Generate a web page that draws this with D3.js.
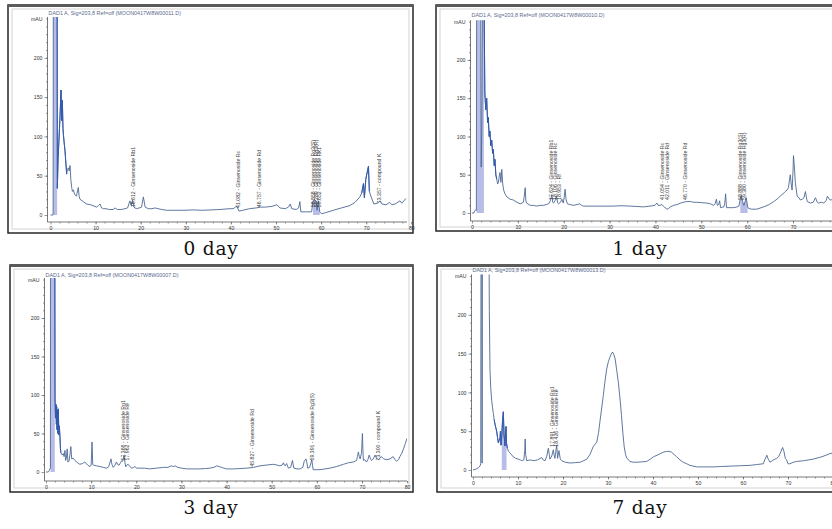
<!DOCTYPE html>
<html><head><meta charset="utf-8">
<script src="https://cdn.jsdelivr.net/npm/d3@7"></script>
<style>body{margin:0;background:#fff;} svg{display:block;}</style>
</head><body>
<svg id="c" width="832" height="529"></svg>
<script>
// ---------------- DATA ----------------
const timeTicks = [0, 10, 20, 30, 40, 50, 60, 70, 80];
const signalTicks = [0, 50, 100, 150, 200];
const signalUnit = "mAU";
const captions = ["0 day", "1 day", "3 day", "7 day"];
const titles = [
  "DAD1 A, Sig=203,8 Ref=off (MOON0417W8W00011.D)",
  "DAD1 A, Sig=203,8 Ref=off (MOON0417W8W00010.D)",
  "DAD1 A, Sig=203,8 Ref=off (MOON0417W8W00007.D)",
  "DAD1 A, Sig=203,8 Ref=off (MOON0417W8W00013.D)"
];

// [retention time (min), signal (mAU)]
const day0Trace = [[0,0],[0.28,0],[0.58,0],[0.63,300],[1.47,300],[1.52,34],[1.67,70],[1.87,95],[2.07,120],[2.34,159],[2.47,120],[2.63,146],[2.77,110],[2.85,103],[3.06,90],[3.21,82],[3.36,70],[3.58,52],[3.76,58],[3.96,60],[4.16,56],[4.33,63],[4.51,45],[4.7,35],[4.86,30],[5.07,32],[5.35,26],[5.75,24],[6.17,35],[6.35,24],[6.55,20],[7.25,17],[8.02,14],[8.94,13],[10.23,10],[10.63,12],[10.98,14],[11.33,9],[11.73,8],[12.32,8],[13.02,7],[13.92,7],[14.31,9],[14.81,7],[15.71,7],[16.5,8],[17.1,9],[17.6,18],[17.9,12],[18.2,19],[18.5,10],[19.0,8],[19.69,9],[20.19,10],[20.59,23],[20.99,10],[21.68,8],[22.48,8],[23.18,9],[23.87,8],[24.67,7],[25.76,6],[27.66,6],[29.65,6],[31.64,6.5],[33.63,6],[35.62,6.5],[37.61,7],[39.6,8],[40.5,8],[41.0,10],[41.3,11],[41.8,5],[42.6,6],[44.1,8],[45.6,9],[46.5,10],[47.6,10],[49.1,11],[50.2,13],[50.85,9],[52.05,8],[52.75,10],[53.15,14],[53.5,8],[54.5,7],[55.0,9],[55.3,17],[55.5,4],[56.5,4],[57.9,4],[58.2,18],[58.6,19],[58.9,18],[59.1,6],[59.4,18],[59.7,4],[60.1,1.5],[61.0,3],[62.7,6],[64.5,9],[66.4,12],[67.5,16],[68.6,23],[69.0,28],[69.4,40],[69.6,22],[69.9,45],[70.1,51],[70.5,62],[70.7,30],[71.1,23],[71.7,14],[72.5,15],[73.1,18],[73.5,14],[74.4,13],[75.2,16],[75.7,13],[76.4,14],[77.5,18],[77.9,15],[78.8,21]];

const day1Trace = [[0,0],[0.4,0],[0.6,3],[0.8,4],[0.95,3],[1.02,300],[1.9,300],[2.0,60],[2.15,120],[2.3,300],[2.6,300],[2.8,157],[3.0,135],[3.2,150],[3.4,118],[3.55,125],[3.75,100],[3.9,107],[4.1,88],[4.3,95],[4.5,78],[4.65,83],[4.85,62],[5.0,70],[5.2,50],[5.4,44],[5.6,38],[5.75,40],[5.95,48],[6.1,53],[6.3,40],[6.5,57],[6.7,38],[6.9,30],[7.2,25],[7.6,21],[8.3,18],[9.0,17],[9.8,14],[10.5,12],[10.9,13],[11.2,14],[11.4,22],[11.6,33],[11.75,16],[11.9,13],[12.7,10],[13.4,10],[14.1,9],[14.8,10],[15.6,10],[16.2,11],[16.7,12],[17.1,16],[17.4,24],[17.6,14],[17.8,13],[18.1,16],[18.4,22],[18.7,13],[18.9,12],[19.3,14],[19.6,18],[19.9,13],[20.1,20],[20.3,31],[20.5,18],[20.8,12],[21.4,11],[22.1,10],[22.9,11],[23.5,12],[23.9,10],[24.3,9],[25.5,9],[27.2,9],[29,9],[30.8,9],[32.5,9.5],[34.5,9],[36,8.5],[37.4,8],[38.8,9],[39.9,10],[40.3,13],[40.6,10],[41.0,10],[41.4,11],[41.7,9],[42.1,7],[42.5,5],[42.9,6],[43.2,8],[44.0,10],[44.7,11],[45.5,13],[46.1,14],[46.8,15],[47.6,15],[48.3,14],[49.0,14],[50.0,13.5],[51.2,13],[52.0,12],[52.7,10],[53.0,12],[53.3,18],[53.5,10],[53.8,11],[54.0,16],[54.2,7],[54.9,8],[55.1,12],[55.3,25],[55.5,7],[56.3,7],[57.1,7],[57.8,8],[58.2,9],[58.5,18],[58.7,23],[59.0,15],[59.3,10],[59.6,16],[59.8,20],[60.1,8],[60.3,6],[61,5],[62.1,5],[63.6,8],[64.8,11],[65.8,15],[66.5,18],[67.2,22],[67.8,25],[68.3,28],[68.7,30],[69.0,33],[69.2,42],[69.4,50],[69.6,38],[69.8,30],[70.0,55],[70.1,75],[70.3,60],[70.5,40],[70.9,22],[71.3,20],[71.6,17],[72.0,18],[72.4,20],[72.7,28],[73.0,18],[73.1,15],[73.8,13],[74.4,14],[74.9,20],[75.3,14],[75.6,13],[76.2,14],[76.7,13],[77.2,16],[77.5,22],[77.9,18],[78.2,17],[78.9,18],[79.5,19],[80.5,19]];

const day3Trace = [[0,0],[0.5,0],[0.75,2],[0.9,5],[0.98,5],[1.0,300],[1.95,300],[2.0,95],[2.1,70],[2.2,88],[2.3,62],[2.36,85],[2.45,55],[2.58,80],[2.65,50],[2.73,82],[2.85,48],[2.95,60],[3.1,45],[3.2,30],[3.3,25],[3.6,22],[3.84,24],[4.0,20],[4.2,28],[4.35,15],[4.5,18],[4.7,30],[4.85,13],[5.1,14],[5.3,22],[5.5,33],[5.7,17],[6.0,18],[6.4,15],[7.0,12],[7.5,10],[8.1,11],[8.6,13],[9.2,9],[9.75,7],[10.0,9],[10.2,39],[10.35,10],[10.5,9],[11.2,8],[12.0,7],[12.7,6],[13.4,5],[13.9,7],[14.4,17],[14.6,10],[14.9,6],[15.3,9],[15.6,13],[16.0,9],[16.2,9],[16.5,12],[16.8,15],[17.0,14],[17.3,22],[17.5,12],[17.65,7],[17.9,9],[18.2,10],[18.6,7],[19.0,5],[19.4,6],[19.7,7],[20.1,5],[20.8,5],[21.8,5],[23.0,4],[24.5,5],[26.0,6],[27.0,6],[27.8,8],[28.2,7],[28.6,8],[29.2,6],[30,5],[31.2,4],[32.6,4],[34.1,4],[35.3,4.5],[36.3,5],[37.2,6],[37.8,8],[38.4,7],[38.9,6],[39.4,5],[40.0,4],[41.5,4],[43,4.5],[44.5,5],[46,6],[47.4,8],[48.8,9],[50.4,10],[51.2,9],[51.8,8],[52.3,9],[52.6,12],[52.8,9],[53.0,8],[53.3,11],[53.7,5],[54.2,6],[54.6,15],[54.9,5],[55.6,4],[56.3,4],[56.9,6],[57.2,14],[57.6,17],[57.8,12],[57.97,5],[58.4,6],[58.9,16],[59.05,8],[59.2,3],[60.0,3],[60.7,3],[61.8,4],[62.9,5],[64.3,7],[65.9,10],[67.0,12],[68.1,13],[68.8,15],[69.0,20],[69.2,26],[69.4,20],[69.6,17],[69.9,25],[70.1,50],[70.2,30],[70.3,15],[70.6,16],[71.0,13],[71.3,16],[71.6,22],[71.9,17],[72.1,15],[72.5,17],[72.9,22],[73.2,18],[73.6,16],[74.0,18],[74.3,20],[74.8,17],[75.5,16],[76.2,17],[76.9,20],[77.3,16],[77.7,14],[78.1,16],[78.4,20],[78.8,24],[79.2,30],[79.6,37],[80.0,44]];

const day7Trace = [[0,0],[0.6,1],[1.2,3],[1.56,5],[1.72,8],[1.78,300],[1.98,300],[2.0,9],[2.04,9],[2.07,300],[3.55,300],[3.63,204],[3.78,128],[3.95,105],[4.15,90],[4.35,80],[4.52,73],[4.7,65],[4.89,59],[5.05,55],[5.26,50],[5.45,42],[5.63,35],[5.8,38],[6.0,41],[6.1,50],[6.22,32],[6.4,45],[6.55,62],[6.74,75],[6.9,45],[7.1,31],[7.2,45],[7.33,56],[7.45,35],[7.63,28],[7.9,24],[8.2,22],[8.96,17],[9.5,15],[10.07,14],[10.5,13],[10.8,12],[11.3,13],[11.5,25],[11.6,40],[11.7,20],[11.93,12],[12.7,13],[13.5,12],[14.3,13],[15.26,16],[15.6,13],[16.0,12],[16.4,18],[16.74,28],[16.95,20],[17.1,14],[17.5,18],[17.85,26],[18.0,20],[18.2,15],[18.6,32],[18.8,15],[19.1,25],[19.4,14],[19.7,12],[20.5,10],[21.6,9],[22.7,9.5],[23.8,10],[24.6,12],[25.3,14],[26.0,20],[26.7,30],[27.1,33],[27.5,36],[27.9,48],[28.2,62],[28.6,80],[28.96,96],[29.3,113],[29.7,130],[30.1,140],[30.4,145],[30.7,149],[31.0,152],[31.3,149],[31.6,143],[31.9,130],[32.3,113],[32.7,90],[33.0,70],[33.3,48],[33.6,30],[33.9,20],[34.2,15],[34.9,11],[35.6,10],[36.4,10],[37.5,10.5],[38.6,11],[39.4,14],[40.1,17],[40.9,19],[41.6,21],[42.3,23],[43.0,24],[43.6,24],[44.1,23],[44.7,20],[45.26,17],[46.0,13],[46.7,10],[47.5,8],[48.2,6],[49.7,4],[51.5,4],[53.4,4],[55.2,4.5],[57.1,5],[59.4,5.5],[61.6,6],[63.0,7],[64.5,8],[64.9,14],[65.3,19],[65.6,14],[66.0,10],[66.5,12],[67.1,14],[67.5,15],[67.9,17],[68.3,22],[68.8,29],[69.1,24],[69.4,15],[69.7,13],[70.0,8],[70.4,8],[71.2,10],[71.9,11],[73.5,12],[75.6,14],[77.5,17],[79.3,21],[80.5,23]];

// peak labels: [time of label, signal where label starts, text]
const day0Labels = [[18.3,10,"18.612 - Ginsenoside Rb1"],[41.6,9,"41.082 - Ginsenoside Rc"],[46.2,10,"46.757 - Ginsenoside Rd"],[58.3,10,"58.858 - Ginsenoside Rg3(S)"],[58.9,10,"59.289 - Ginsenoside Rg3(R)"],[59.5,10,"59.652 - Ginsenoside Rk1"],[72.8,15,"73.357 - compound K"]];
const day1Labels = [[17.2,17,"17.624 - Ginsenoside Rb1"],[18.1,17,"18.106 - Ginsenoside Rc"],[19.0,17,"18.953 - Rf"],[41.4,17,"41.054 - Ginsenoside Rc"],[42.6,17,"42.011 - Ginsenoside Rd"],[46.4,17,"46.770 - Ginsenoside Rd"],[58.4,17,"58.888 - Ginsenoside Rg3(S)"],[59.3,17,"59.380 - Ginsenoside Rg3(R)"]];
const day3Labels = [[17.0,15,"17.366 - Ginsenoside Rg1"],[18.0,15,"17.962 - Ginsenoside Re"],[45.7,7,"45.827 - Ginsenoside Rd"],[58.9,15,"59.391 - Ginsenoside Rg3(S)"],[73.6,15,"73.300 - compound K"]];
const day7Labels = [[17.7,30,"17.891 - Ginsenoside Rg1"],[18.5,30,"18.426 - Ginsenoside Re"]];

// integration shading: [start, end]
const day0Fills = [[0.63,1.47],[58.2,59.7]];
const day1Fills = [[1.02,2.6],[58.5,60.1]];
const day3Fills = [[1.0,1.95]];
const day7Fills = [[6.4,7.6]];
// highlighted (integrated) trace parts
const day0Marks = [[1.47,3.6],[69.0,70.7]];
const day1Marks = [[2.6,5.4]];
const day3Marks = [[1.95,3.3]];
const day7Marks = [[4.7,7.7]];

// ---------------- LAYOUT ----------------
const panels = [
  {trace:day0Trace, labels:day0Labels, fills:day0Fills, marks:day0Marks, title:titles[0], caption:captions[0],
   frame:{x:8,y:5,w:405,h:228}, x0:50.5, xk:4.51, y0:215, y250:18.5, axisY:222, yAxisX:47.5, titleY:15, capX:211, capY:255},
  {trace:day1Trace, labels:day1Labels, fills:day1Fills, marks:day1Marks, title:titles[1], caption:captions[1],
   frame:{x:436,y:5,w:420,h:226}, x0:472, xk:4.586, y0:213, y250:21.7, axisY:221, yAxisX:470.5, titleY:17, capX:640, capY:255},
  {trace:day3Trace, labels:day3Labels, fills:day3Fills, marks:day3Marks, title:titles[2], caption:captions[2],
   frame:{x:10,y:265,w:403,h:227}, x0:46, xk:4.514, y0:472, y250:279.5, axisY:481, yAxisX:44.5, titleY:277, capX:211, capY:514},
  {trace:day7Trace, labels:day7Labels, fills:day7Fills, marks:day7Marks, title:titles[3], caption:captions[3],
   frame:{x:437,y:265,w:420,h:227}, x0:473, xk:4.5, y0:470, y250:276, axisY:477, yAxisX:471.5, titleY:272, capX:640, capY:514}
];

const svg = d3.select("#c");
const defs = svg.append("defs");
const traceColor = "#4d6894";
const markColor = "#3159b0";
const fillColor = "#aab2e2";

panels.forEach((p, i) => {
  const f = p.frame;
  const g = svg.append("g");
  // frame
  g.append("rect").attr("x", f.x).attr("y", f.y).attr("width", f.w).attr("height", f.h)
    .attr("fill", "#fff").attr("stroke", "#262626").attr("stroke-width", 1.5);
  g.append("line").attr("x1", f.x).attr("x2", f.x + f.w).attr("y1", f.y + 0.5).attr("y2", f.y + 0.5)
    .attr("stroke", "#5a5a5a").attr("stroke-width", 3);
  g.append("rect").attr("x", f.x + 4).attr("y", f.y + 4).attr("width", f.w - 8).attr("height", f.h - 8)
    .attr("fill", "none").attr("stroke", "#c9c9c9").attr("stroke-width", 0.8);

  const x = d3.scaleLinear().domain([0, 80]).range([p.x0, p.x0 + 80 * p.xk]);
  const y = d3.scaleLinear().domain([0, 250]).range([p.y0, p.y250]);
  const right = Math.min(f.x + f.w - 6, 832);

  defs.append("clipPath").attr("id", "clip" + i).append("rect")
    .attr("x", p.yAxisX).attr("y", y(252)).attr("width", right - p.yAxisX).attr("height", p.axisY - y(252));
  const plot = g.append("g").attr("clip-path", `url(#clip${i})`);

  const line = d3.line().x(d => x(d[0])).y(d => y(d[1]));
  const area = d3.area().x(d => x(d[0])).y0(y(0)).y1(d => y(d[1]));

  p.fills.forEach(([a, b]) => {
    plot.append("path").datum(p.trace.filter(d => d[0] >= a && d[0] <= b))
      .attr("d", area).attr("fill", fillColor).attr("opacity", 0.85);
  });
  plot.append("path").datum(p.trace).attr("d", line)
    .attr("fill", "none").attr("stroke", traceColor).attr("stroke-width", 0.9).attr("stroke-linejoin", "round");
  p.marks.forEach(([a, b]) => {
    plot.append("path").datum(p.trace.filter(d => d[0] >= a && d[0] <= b))
      .attr("d", line).attr("fill", "none").attr("stroke", markColor).attr("stroke-width", 1.0);
  });

  // y axis
  const yAx = g.append("g").attr("transform", `translate(${p.yAxisX},0)`)
    .call(d3.axisLeft(y).tickValues(signalTicks).tickSize(3).tickPadding(2));
  yAx.select(".domain").remove();
  g.append("g").attr("transform", `translate(${p.yAxisX},0)`)
    .call(d3.axisLeft(y).tickValues(d3.range(10, 251, 10)).tickSize(1.5).tickFormat(""))
    .select(".domain").remove();
  g.append("line").attr("x1", p.yAxisX).attr("x2", p.yAxisX).attr("y1", p.axisY).attr("y2", y(252))
    .attr("stroke", "#555").attr("stroke-width", 0.8);
  g.append("text").attr("x", p.yAxisX - 5).attr("y", y(250) + 2).attr("text-anchor", "end")
    .attr("font-size", 5.2).attr("font-family", "Liberation Sans, Arial, sans-serif").attr("fill", "#333").text(signalUnit);

  // x axis
  const xAx = g.append("g").attr("transform", `translate(0,${p.axisY})`)
    .call(d3.axisBottom(x).tickValues(timeTicks).tickSize(2.5).tickPadding(1.5));
  xAx.select(".domain").remove();
  g.append("g").attr("transform", `translate(0,${p.axisY})`)
    .call(d3.axisBottom(x).tickValues(d3.range(2, 81, 2)).tickSize(1.5).tickFormat(""))
    .select(".domain").remove();
  g.append("line").attr("x1", p.yAxisX).attr("x2", right).attr("y1", p.axisY).attr("y2", p.axisY)
    .attr("stroke", "#555").attr("stroke-width", 0.8);

  g.selectAll(".tick text").attr("font-size", 5.2).attr("font-family", "Liberation Sans, Arial, sans-serif").attr("fill", "#333");
  g.selectAll(".tick line").attr("stroke", "#555").attr("stroke-width", 0.6);

  // peak labels
  p.labels.forEach(([t, v, txt]) => {
    g.append("text").attr("transform", `translate(${x(t) + 1.8},${y(v)}) rotate(-90)`)
      .attr("font-size", 5.2).attr("font-family", "Liberation Sans, Arial, sans-serif")
      .attr("fill", "#3a3a3a").text(txt);
  });

  // title
  g.append("text").attr("x", p.yAxisX + 1).attr("y", p.titleY).attr("font-size", 5.4)
    .attr("font-family", "Liberation Sans, Arial, sans-serif").attr("fill", "#5b6a8e").text(p.title);

  // caption
  svg.append("text").attr("x", p.capX).attr("y", p.capY).attr("text-anchor", "middle")
    .attr("font-size", 18.5).attr("letter-spacing", 0.8).attr("font-family", "DejaVu Serif, serif")
    .attr("fill", "#111").text(p.caption);
});
</script>
</body></html>
